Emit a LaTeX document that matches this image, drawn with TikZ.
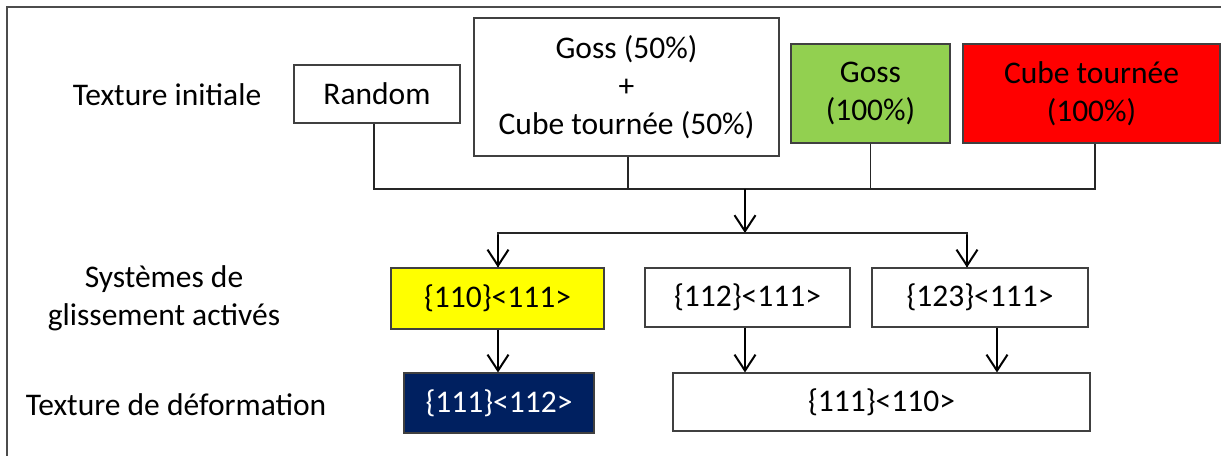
\documentclass[tikz,border=0pt]{standalone}
\usepackage{fontspec}
\setmainfont{Carlito}
\usetikzlibrary{arrows.meta}
\definecolor{gossgreen}{HTML}{92D050}
\definecolor{cubered}{HTML}{FF0000}
\definecolor{slipyellow}{HTML}{FFFF00}
\definecolor{defnavy}{HTML}{002060}
\definecolor{edgegray}{HTML}{404040}
\begin{document}
\begin{tikzpicture}[x=1pt,y=-1pt,
  every node/.style={font=\fontsize{31.5}{38}\selectfont, inner sep=0pt, align=center},
  tbox/.style={draw=edgegray, line width=1.1pt, fill=white},
  lbl/.style={},
  conn/.style={line width=1.1pt, draw=black!85},
  arr/.style={line width=2pt, -{Straight Barb[length=16pt,width=21pt,line width=2pt]}}]
\useasboundingbox (0,0) rectangle (1221,456);
\draw[draw=black!70, line width=1.3pt] (1221,7) -- (7,7) -- (7,456);
% left labels
\node[lbl] (l1) at (167,95) {Texture initiale};
\node[lbl] (l2) at (164,298) {Systèmes de\\glissement activés};
\node[lbl] (l3) at (176,405) {Texture de déformation};
% top row
\node[tbox, minimum width=166pt, minimum height=58pt] (rnd) at (377,94) {Random};
\node[tbox, minimum width=305pt, minimum height=138pt] (gc) at (626.5,87) {Goss (50\%)\\+\\Cube tournée (50\%)};
\node[tbox, fill=gossgreen, minimum width=159pt, minimum height=99pt] (goss) at (870.5,93.5) {Goss\\(100\%)};
\node[tbox, fill=cubered, minimum width=257pt, minimum height=99pt] (red) at (1091.5,93.5) {Cube tournée\\(100\%)};
% middle row
\node[tbox, fill=slipyellow, minimum width=213pt, minimum height=61pt] (yel) at (497.5,298.5) {\{110\}<111>};
\node[tbox, minimum width=205pt, minimum height=59pt] (s112) at (747.5,297.5) {\{112\}<111>};
\node[tbox, minimum width=216pt, minimum height=59pt] (s123) at (980,297.5) {\{123\}<111>};
% bottom row
\node[tbox, fill=defnavy, text=white, minimum width=190pt, minimum height=60pt] (navy) at (499,403) {\{111\}<112>};
\node[tbox, minimum width=417pt, minimum height=58pt] (d110) at (881.5,402) {\{111\}<110>};
% connectors
\coordinate (j1) at (745,189);
\coordinate (j2) at (745,233);
\draw[conn] ([xshift=-3pt]rnd.south) |- (j1) -| ([xshift=3.5pt]red.south);
\draw[conn] ([xshift=1.5pt]gc.south) -- ([xshift=1.5pt]gc.south |- j1);
\draw[conn] (goss.south) -- (goss.south |- j1);
\draw[arr] (j1) -- (j2);
\draw[conn] (j2) -| ([xshift=0.5pt]yel.north);
\draw[conn] (j2) -| ([xshift=-13pt]s123.north);
\draw[arr] ([xshift=0.5pt,yshift=32pt]yel.north) -- ([xshift=0.5pt]yel.north);
\draw[arr] ([xshift=-13pt,yshift=32pt]s123.north) -- ([xshift=-13pt]s123.north);
\draw[arr] ([xshift=0.5pt]yel.south) -- ([xshift=0.5pt]yel.south |- navy.north);
\draw[arr] ([xshift=-2.5pt]s112.south) -- ([xshift=-2.5pt]s112.south |- d110.north);
\draw[arr] ([xshift=17pt]s123.south) -- ([xshift=17pt]s123.south |- d110.north);
\end{tikzpicture}
\end{document}
